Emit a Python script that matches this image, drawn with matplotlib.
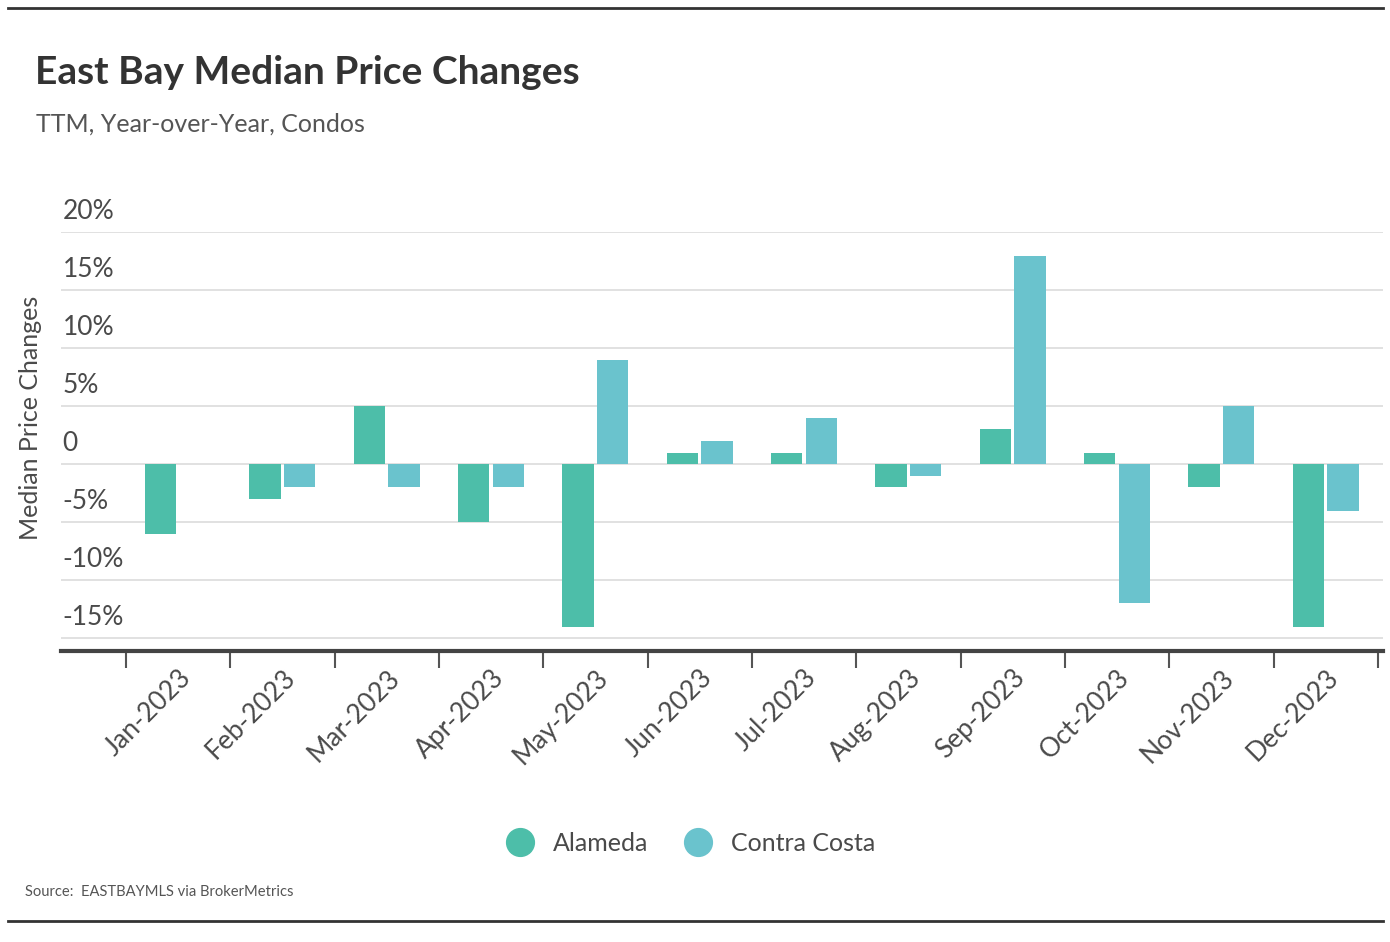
import numpy as np
import matplotlib.pyplot as plt
from matplotlib.lines import Line2D

# Data (percent, year-over-year)
months = ['Jan-2023', 'Feb-2023', 'Mar-2023', 'Apr-2023', 'May-2023', 'Jun-2023',
          'Jul-2023', 'Aug-2023', 'Sep-2023', 'Oct-2023', 'Nov-2023', 'Dec-2023']
alameda = [-6, -3, 5, -5, -14, 1, 1, -2, 3, 1, -2, -14]
contra_costa = [np.nan, -2, -2, -2, 9, 2, 4, -1, 18, -12, 5, -4]
y_ticks = [-15, -10, -5, 0, 5, 10, 15, 20]
y_tick_labels = ['-15%', '-10%', '-5%', '0', '5%', '10%', '15%', '20%']

ALAMEDA_COLOR = '#4dbea9'
CC_COLOR = '#6ac3cd'
TEXT = '#4a4a4a'

plt.rcParams['font.family'] = ['Lato', 'DejaVu Sans']


def main():
    fig = plt.figure(figsize=(13.9, 9.42), dpi=100)
    ax = fig.add_axes([0.044, 0.309, 0.951, 0.445])

    x = np.arange(len(months))
    w = 0.3
    ax.bar(x - 0.165, alameda, w, color=ALAMEDA_COLOR, zorder=3)
    ax.bar(x + 0.165, contra_costa, w, color=CC_COLOR, zorder=3)

    ax.set_xlim(-1.12, 11.55)
    ax.set_ylim(-16.1, 20.05)

    # gridlines + labels sitting above them
    for v, lab in zip(y_ticks, y_tick_labels):
        ax.axhline(v, color='#dcdcdc', lw=1.2, zorder=1)
        ax.annotate(lab, xy=(0, v), xycoords=('axes fraction', 'data'),
                    xytext=(1, 6), textcoords='offset points',
                    ha='left', va='bottom', fontsize=19, color=TEXT)
    ax.set_yticks([])

    # ticks at category boundaries, labels at centers
    ax.set_xticks(np.arange(-0.5, 12, 1))
    ax.set_xticklabels([])
    ax.tick_params(axis='x', length=12, width=1.5, color='#555555')
    ax.set_xticks(x, minor=True)
    ax.set_xticklabels(months, minor=True, rotation=45, ha='right',
                       rotation_mode='anchor', fontsize=19, color=TEXT)
    ax.tick_params(axis='x', which='minor', length=0, pad=10)

    for s in ['top', 'right', 'left']:
        ax.spines[s].set_visible(False)
    ax.spines['bottom'].set_linewidth(3)
    ax.spines['bottom'].set_color('#444444')

    fig.text(0.022, 0.556, 'Median Price Changes', rotation=90, ha='center',
             va='center', fontsize=18, color=TEXT)

    fig.text(0.025, 0.923, 'East Bay Median Price Changes', fontsize=28,
             fontweight='bold', color='#333333', va='center')
    fig.text(0.026, 0.868, 'TTM, Year-over-Year, Condos', fontsize=18,
             color='#555555', va='center')
    fig.text(0.018, 0.053, 'Source:  EASTBAYMLS via BrokerMetrics', fontsize=10.6,
             color='#555555', va='center')

    handles = [Line2D([], [], marker='o', ls='', ms=20, color=ALAMEDA_COLOR),
               Line2D([], [], marker='o', ls='', ms=20, color=CC_COLOR)]
    fig.legend(handles, ['Alameda', 'Contra Costa'], loc='center',
               bbox_to_anchor=(0.493, 0.105), ncol=2, frameon=False,
               fontsize=18, handletextpad=0.3, columnspacing=1.0,
               labelcolor=TEXT)

    # frame lines top and bottom
    fig.add_artist(Line2D([0.006, 0.995], [0.992, 0.992], color='#333333', lw=2))
    fig.add_artist(Line2D([0.006, 0.995], [0.022, 0.022], color='#333333', lw=2))

    fig.savefig('out.png', dpi=100)


if __name__ == '__main__':
    main()
